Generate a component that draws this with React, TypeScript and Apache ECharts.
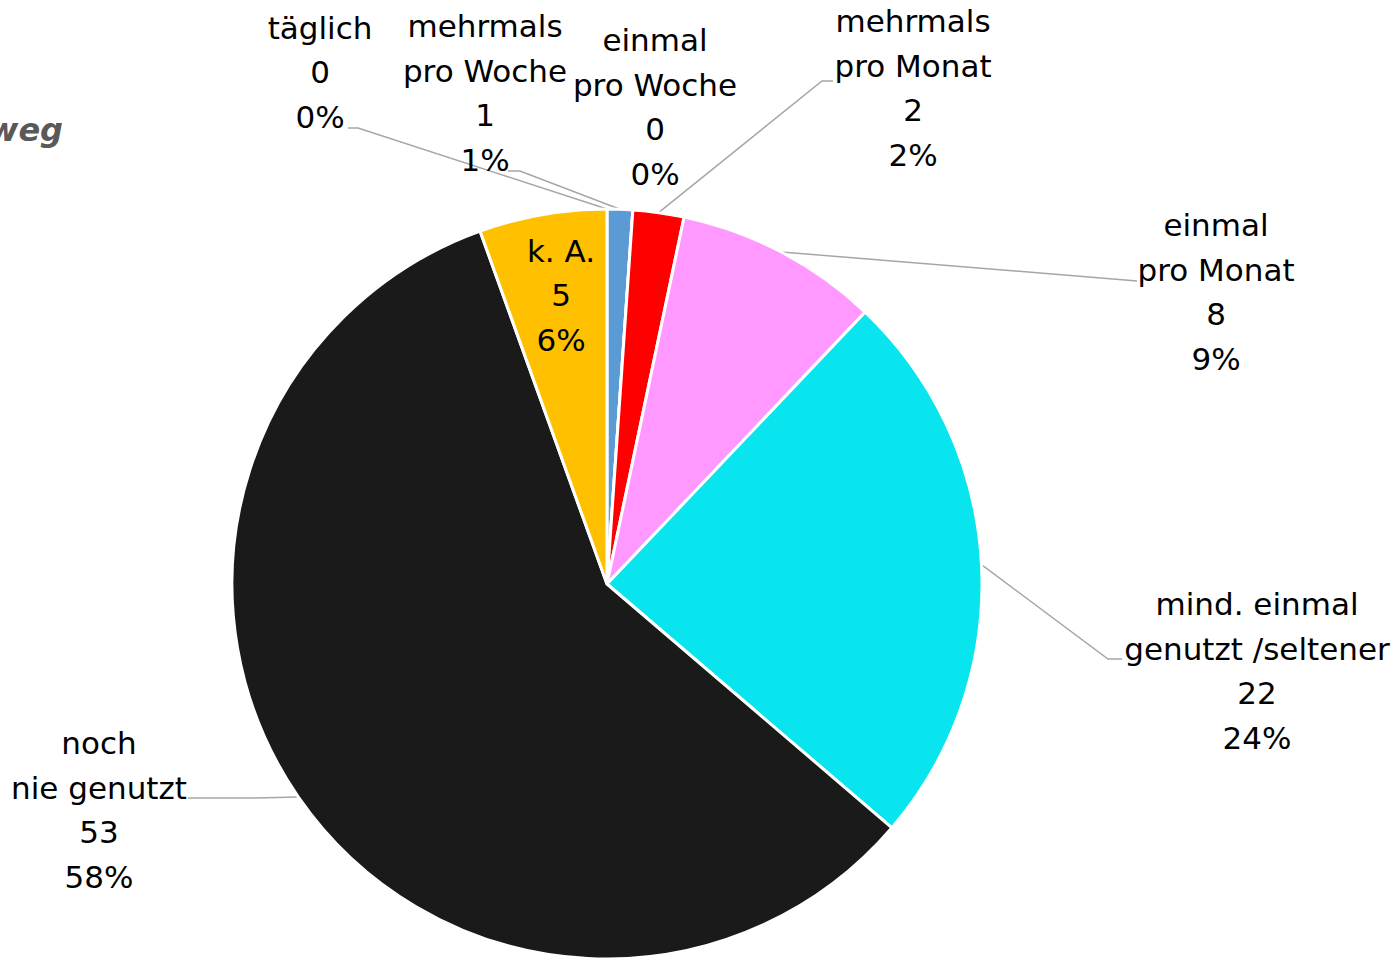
import React, { useEffect, useRef } from "react";
import * as echarts from "echarts";

const categories = [
  "täglich",
  "mehrmals\npro Woche",
  "einmal\npro Woche",
  "mehrmals\npro Monat",
  "einmal\npro Monat",
  "mind. einmal\ngenutzt /seltener",
  "noch\nnie genutzt",
  "k. A.",
];
const values = [0, 1, 0, 2, 8, 22, 53, 5];
const colors = ["#5B9BD5", "#5B9BD5", "#ED7D31", "#FF0000", "#FF99FF", "#08E5EF", "#1A1A1A", "#FFC000"];

// label block centres (px) and label-line bend/end points
const labelPos: [number, number][] = [
  [320, 72],
  [485, 93],
  [655, 107],
  [913, 88],
  [1216, 292],
  [1257, 671],
  [99, 810],
  [561, 295],
];
const lineBends: (number[][] | null)[] = [
  [[358, 128], [348, 128]],
  [[520, 171], [508, 171]],
  null,
  [[822, 81], [833, 81]],
  [[1125, 280], [1137, 281]],
  [[1108, 659], [1122, 659]],
  [[250, 798], [188, 798]],
  null,
];

const FONT = "'Comic Sans MS', 'DejaVu Sans', sans-serif";

export default function App() {
  const ref = useRef<HTMLDivElement>(null);
  useEffect(() => {
    if (!ref.current) return;
    const chart = echarts.init(ref.current, null, { renderer: "svg" });
    chart.setOption({
      animation: false,
      backgroundColor: "#ffffff",
      graphic: [
        {
          type: "text",
          x: 63,
          y: 130,
          style: {
            text: "weg",
            align: "right",
            verticalAlign: "middle",
            font: "italic bold 32px " + FONT,
            fill: "#595959",
          },
        },
      ],
      series: [
        {
          type: "pie",
          center: [607, 584],
          radius: 375,
          startAngle: 90,
          clockwise: true,
          avoidLabelOverlap: false,
          stillShowZeroSum: true,
          percentPrecision: 0,
          itemStyle: { borderColor: "#ffffff", borderWidth: 3 },
          label: {
            show: true,
            position: "outside",
            formatter: "{b}\n{c}\n{d}%",
            fontFamily: FONT,
            fontSize: 31,
            lineHeight: 44.5,
            color: "#000000",
            align: "center",
          },
          labelLine: {
            show: true,
            length: 20,
            length2: 20,
            lineStyle: { color: "#A6A6A6", width: 1.5 },
          },
          labelLayout: (params: any) => {
            const i = params.dataIndex;
            const p = labelPos[i];
            const res: any = {
              x: p[0],
              y: p[1],
              align: "center",
              verticalAlign: "middle",
            };
            const bends = lineBends[i];
            if (bends && params.labelLinePoints) {
              res.labelLinePoints = [params.labelLinePoints[0], bends[0], bends[1]];
            }
            return res;
          },
          emphasis: { disabled: true },
          data: categories.map((name, i) => ({
            name,
            value: values[i],
            itemStyle: { color: colors[i] },
            labelLine: { show: lineBends[i] !== null },
          })),
        },
      ],
    });
    return () => chart.dispose();
  }, []);
  return (
    <div
      ref={ref}
      style={{ position: "absolute", left: 0, top: 0, width: 1398, height: 962 }}
    />
  );
}
